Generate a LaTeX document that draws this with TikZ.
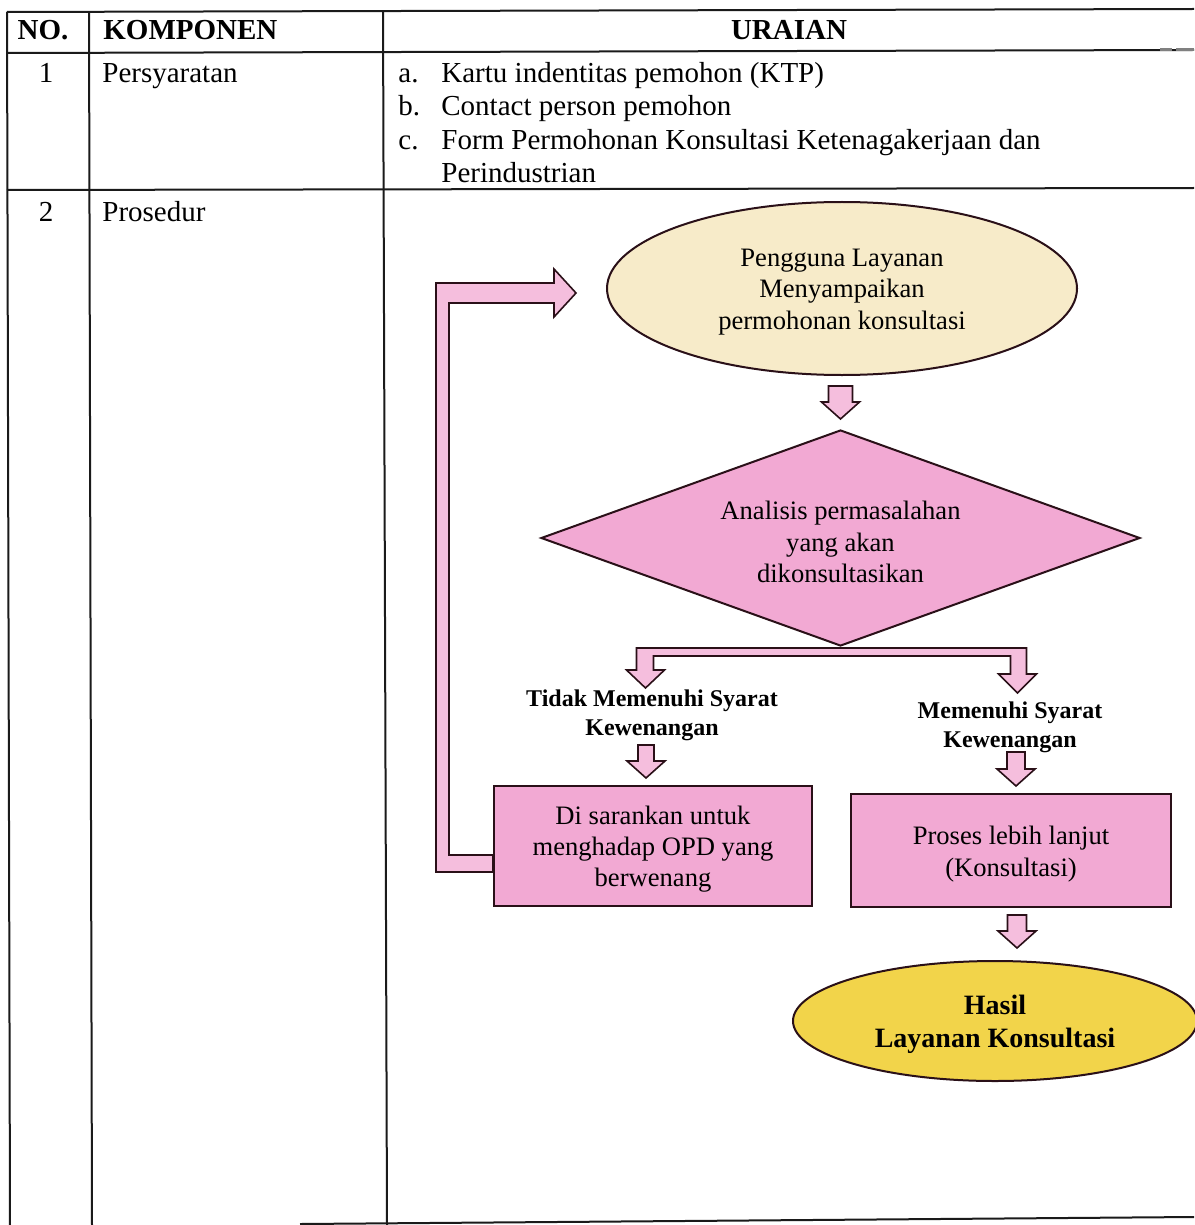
\documentclass[tikz,border=0pt]{standalone}
\usepackage{fontspec}
\setmainfont{Liberation Serif}
\usetikzlibrary{shapes.geometric,calc}

\definecolor{rulec}{HTML}{1A1A1A}
\definecolor{edgec}{HTML}{2A1018}
\definecolor{pinkfill}{HTML}{F2A9D3}
\definecolor{arrowfill}{HTML}{F5BEDD}
\definecolor{creamfill}{HTML}{F7EBC9}
\definecolor{goldfill}{HTML}{F2D44A}

\newcommand\tabfont{\fontsize{14.5}{17}\selectfont}
\newcommand\flowfont{\fontsize{13.3}{15.6}\selectfont}
\newcommand\labfont{\fontsize{12}{14.5}\selectfont\bfseries}
\newcommand\resultfont{\fontsize{14}{16.5}\selectfont\bfseries}

% hollow block arrow pointing down: #1 tip, #2 total length, #3 half shaft width
\newcommand\dnarrow[3]{%
  \draw[blockarrow, shift={#1}] (-#3,-#2) -- (#3,-#2) -- (#3,-17) -- (19,-17)
    -- (0,0) -- (-19,-17) -- (-#3,-17) -- cycle;}

\tikzset{
  rule/.style={draw=rulec, line width=1pt},
  cell/.style={anchor=base west, inner sep=0pt, font=\tabfont},
  startnode/.style={ellipse, draw=edgec, line width=1pt, fill=creamfill,
    minimum width=235pt, minimum height=86.5pt, inner sep=0pt},
  decision/.style={diamond, draw=edgec, line width=1pt, fill=pinkfill,
    minimum width=299.5pt, minimum height=108pt, inner sep=0pt},
  process/.style={rectangle, draw=edgec, line width=1pt, fill=pinkfill, inner sep=0pt},
  resultnode/.style={ellipse, draw=edgec, line width=1pt, fill=goldfill,
    minimum width=202pt, minimum height=60pt, inner sep=0pt},
  flowtext/.style={align=center, font=\flowfont, inner sep=0pt},
  resulttext/.style={align=center, font=\resultfont, inner sep=0pt},
  branchlabel/.style={align=center, font=\labfont, inner sep=0pt},
  blockarrow/.style={draw=edgec, line width=0.8pt, fill=arrowfill, line join=miter},
}

\begin{document}
\begin{tikzpicture}[x=0.5pt, y=-0.5pt]
\useasboundingbox (0,0) rectangle (1194,1225);
\fill[white] (0,0) rectangle (1194,1225);

% table rules
\draw[rule] (7,12) -- (1194,9);
\draw[rule] (7,53) -- (1194,50);
\draw[rule] (7,190) -- (1194,188);
\draw[rule] (300,1224) -- (1194,1217);
\draw[rule] (7,12) -- (10,1225);
\draw[rule] (89,12) -- (92,1225);
\draw[rule] (383,12) -- (387,1225);
\draw[gray, line width=1.2pt] (1160,49.5) -- (1172,49.5) (1176,49.5) -- (1194,49.5);

% header
\node[cell, anchor=base] (hno) at (43,39.5) {\bfseries NO.};
\node[cell] (hkomp) at (103,39.5) {\bfseries KOMPONEN};
\node[cell, anchor=base] (hur) at (789,39.5) {\bfseries URAIAN};

% row 1
\node[cell, anchor=base] (n1) at (46,83) {1};
\node[cell] (k1) at (102,83) {Persyaratan};
\node[cell] (ia) at (398,83) {a.};
\node[cell] (ta) at (441,83) {Kartu indentitas pemohon (KTP)};
\node[cell] (ib) at (398,116) {b.};
\node[cell] (tb) at (441,116) {Contact person pemohon};
\node[cell] (ic) at (398,150) {c.};
\node[cell] (tc) at (441,150) {Form Permohonan Konsultasi Ketenagakerjaan dan};
\node[cell] (tc2) at (441,183) {Perindustrian};

% row 2
\node[cell, anchor=base] (n2) at (46,221) {2};
\node[cell] (k2) at (102,221) {Prosedur};

% flowchart shapes
\node[startnode] (s1) at (842,288.5) {};
\node[decision] (d1) at (840.5,538) {};
\node[process, minimum width=159pt, minimum height=60pt] (b1) at (653,846) {};
\node[process, minimum width=160pt, minimum height=56.5pt] (b2) at (1011,850.5) {};
\node[resultnode] (e1) at (995,1021) {};

% flowchart texts
\node[flowtext] (s1t) at ($(s1.center)+(0,3.5)$) {Pengguna Layanan\\Menyampaikan\\permohonan konsultasi};
\node[flowtext] (d1t) at ($(d1.center)+(0,4)$) {Analisis permasalahan\\yang akan\\dikonsultasikan};
\node[flowtext] (b1t) at ($(b1.center)+(0,3)$) {Di sarankan untuk\\menghadap OPD yang\\berwenang};
\node[flowtext] (b2t) at ($(b2.center)+(0,3.5)$) {Proses lebih lanjut\\(Konsultasi)};
\node[resulttext] (e1t) at ($(e1.center)+(0,3.5)$) {Hasil\\Layanan Konsultasi};
\node[branchlabel] (l1) at (652,715) {Tidak Memenuhi Syarat\\Kewenangan};
\node[branchlabel] (l2) at (1010,727) {Memenuhi Syarat\\Kewenangan};

% connectors
\dnarrow{($(d1.north)+(0,-10)$)}{33}{12}
\dnarrow{($(b1.north)+(-7,-7)$)}{33}{8}
\dnarrow{($(b2.north)+(5,-7)$)}{34}{9}
\dnarrow{($(b2.south)+(6,40)$)}{33}{9.5}

% split below the decision
\draw[blockarrow, shift={(d1.south)}]
  (-204,1) -- (186,1) -- (186,27) -- (196,27) -- (177,46) -- (158,27) -- (170,27)
  -- (170,9) -- (-187,9) -- (-187,23) -- (-176,23) -- (-195,41) -- (-214,23)
  -- (-204,23) -- cycle;

% return path back to the start
\draw[blockarrow, shift={(b1.west)}]
  (0,26) -- (-57,26) -- (-57,-563) -- (61,-563) -- (61,-577) -- (83,-553)
  -- (61,-529) -- (61,-543) -- (-44,-543) -- (-44,9) -- (0,9) -- cycle;
\end{tikzpicture}
\end{document}
